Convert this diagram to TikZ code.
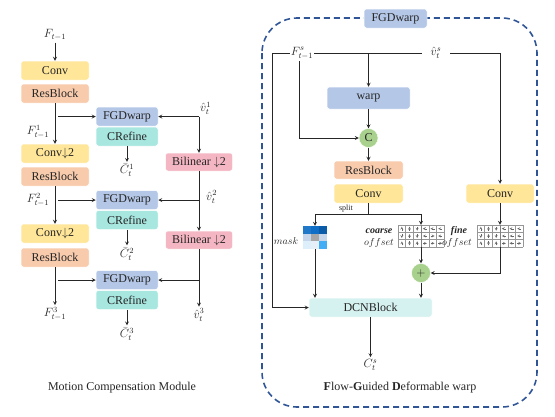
\documentclass[tikz,border=0pt]{standalone}
\usepackage{amsmath}
\usepackage{fontspec}
\setmainfont{Liberation Serif}
\usepackage{tikz}
\usetikzlibrary{arrows, shapes.geometric}
\definecolor{convyellow}{RGB}{255,230,153}
\definecolor{resorange}{RGB}{248,203,173}
\definecolor{warpblue}{RGB}{180,199,231}
\definecolor{refinecyan}{RGB}{168,230,224}
\definecolor{dcncyan}{RGB}{214,242,240}
\definecolor{bilpink}{RGB}{244,182,194}
\definecolor{opgreen}{RGB}{169,209,142}
\definecolor{frameblue}{RGB}{47,85,151}
\definecolor{linegray}{RGB}{38,38,38}
\definecolor{gridgray}{RGB}{150,150,150}
\definecolor{mA}{RGB}{31,120,200}
\definecolor{mB}{RGB}{15,111,198}
\definecolor{mC}{RGB}{10,91,168}
\definecolor{mD}{RGB}{197,213,234}
\definecolor{mE}{RGB}{166,166,166}
\definecolor{mF}{RGB}{197,213,234}
\definecolor{mG}{RGB}{222,239,252}
\definecolor{mH}{RGB}{230,238,248}
\definecolor{mI}{RGB}{64,173,245}
\tikzstyle{link} = [line width=0.75pt, draw=linegray]
\tikzstyle{arrow} = [link,->,>=stealth]

\begin{document}
\begin{tikzpicture}[x=1pt, y=-1pt, font=\fontsize{12}{14}\selectfont, text=linegray,
    box/.style={rectangle, rounded corners=2.5pt, draw=white, line width=0.5pt, inner sep=0pt, minimum height=19pt, minimum width=#1},
    box/.default=68pt,
    lbl/.style={inner sep=2pt},
    op/.style={circle, fill=opgreen, draw=white, minimum size=19pt, inner sep=0pt},
    small/.style={font=\fontsize{10}{12}\selectfont, inner sep=1pt}]
    \useasboundingbox (0,0) rectangle (555,416);

    % motion compensation module
    \node[lbl] (fin) at (55,35) {$F_{t-1}$};
    \node[box, fill=convyellow] (conv1) at (55,70.5) {Conv};
    \node[box, fill=resorange] (res1) at (55,93.5) {ResBlock};
    \node[box, fill=convyellow] (conv2) at (55,153.5) {Conv$\downarrow$2};
    \node[box, fill=resorange] (res2) at (55,176.5) {ResBlock};
    \node[box, fill=convyellow] (conv3) at (55,233.5) {Conv$\downarrow$2};
    \node[box, fill=resorange] (res3) at (55,257.5) {ResBlock};
    \node[lbl] (f1) at (38,132) {$F^1_{t-1}$};
    \node[lbl] (f2) at (38,200) {$F^2_{t-1}$};
    \node[lbl] (f3) at (55,314) {$F^3_{t-1}$};
    \foreach \i/\y in {1/116.5, 2/200, 3/280} {
        \node[box=62pt, fill=warpblue] (fgd\i) at (127,\y) {FGDwarp};
        \node[box=62pt, fill=refinecyan] (cref\i) at (127,\y+20) {CRefine};
        \node[lbl] (cbar\i) at (127,\y+54) {$\bar{C}^{\i}_t$};
        \draw[arrow] (cref\i) -- (cbar\i);
    }
    \node[box=67pt, minimum height=18pt, fill=bilpink] (bil1) at (199,162) {Bilinear $\downarrow$2};
    \node[box=67pt, minimum height=18pt, fill=bilpink] (bil2) at (199,240) {Bilinear $\downarrow$2};
    \node[lbl, anchor=south west] (v1) at (198,117) {$\hat{v}^1_t$};
    \node[lbl, anchor=west] (v2) at (204,197) {$\hat{v}^2_t$};
    \node[lbl] (v3) at (199,315) {$\hat{v}^3_t$};
    \coordinate (vc1) at (bil1.north |- fgd1.east);

    \draw[arrow] (fin) -- (conv1);
    \draw[arrow] (res1) -- (conv2);
    \draw[arrow] (res2) -- (conv3);
    \draw[arrow] (res3) -- (f3);
    \draw[arrow] ([xshift=3pt]res1.south |- fgd1.west) -- (fgd1.west);
    \draw[arrow] ([xshift=3pt]res2.south |- fgd2.west) -- (fgd2.west);
    \draw[arrow] ([xshift=3pt]res3.south |- fgd3.west) -- (fgd3.west);
    \draw[arrow] (vc1) -- (fgd1.east);
    \draw[arrow] (vc1) -- (bil1.north);
    \draw[arrow] (bil1) -- (bil2);
    \draw[arrow] (bil2) -- (v3);
    \draw[arrow] (bil1.south |- fgd2.east) -- (fgd2.east);
    \draw[arrow] (bil2.south |- fgd3.east) -- (fgd3.east);
    \node (capl) at (122,388) {Motion Compensation Module};

    % flow-guided deformable warp
    \draw[frameblue, line width=1.6pt, dash pattern=on 6pt off 4pt, rounded corners=35pt] (262,18) rectangle (537,407);
    \node[box=63pt, fill=warpblue] (title) at (395.5,18.5) {FGDwarp};
    \node[lbl, inner xsep=1pt] (fs) at (302,53) {$F^s_{t-1}$};
    \node[lbl, inner xsep=9pt] (vs) at (436,53) {$\hat{v}^s_t$};
    \node[box=83pt, minimum height=22pt, fill=warpblue] (warp) at (368.5,98) {warp};
    \node[op] (cat) at (368.5,138) {C};
    \node[box=69pt, minimum height=18pt, fill=resorange] (res) at (368.5,170) {ResBlock};
    \node[box=69pt, fill=convyellow] (conv) at (368.5,193.5) {Conv};
    \node[box, fill=convyellow] (convf) at (500,193.5) {Conv};
    \node[op] (plus) at (421,273) {$+$};
    \node[box=123pt, fill=dcncyan] (dcn) at (370.5,307.5) {DCNBlock};
    \node[lbl] (cs) at (370.5,365) {$C^s_t$};

    % mask and offsets
    \node[minimum width=24pt, minimum height=23pt, inner sep=0pt] (mask) at (315,237.5) {};
    \foreach \c [count=\i from 0] in {mA,mB,mC,mD,mE,mF,mG,mH,mI} {
        \pgfmathsetmacro{\cx}{303+8*mod(\i,3)}
        \pgfmathsetmacro{\cy}{226+7.67*int(\i/3)}
        \fill[\c] (\cx,\cy) rectangle ++(8,7.67);
    }
    \node[minimum width=46pt, minimum height=22pt, inner sep=0pt] (coarse) at (421,236) {};
    \node[minimum width=46pt, minimum height=22pt, inner sep=0pt] (fine) at (500,236) {};
    \foreach \gx/\dirs in {398/{270,270,90,180,180,180,90,270,90,180,0,180,270,90,270,0,0,0},
                           477/{270,270,90,180,180,180,90,270,90,180,180,180,270,90,270,0,180,0}} {
        \foreach \k in {0,...,6} {
            \pgfmathsetmacro{\cx}{\gx+7.67*\k}
            \draw[gridgray, line width=0.35pt] (\cx,225) -- ++(0,22);
        }
        \foreach \k in {0,...,3} {
            \pgfmathsetmacro{\cy}{225+7.33*\k}
            \draw[gridgray, line width=0.35pt] (\gx,\cy) -- ++(46,0);
        }
        \pgfmathsetmacro{\cx}{\gx+23}
        \draw[gray, line width=0.5pt] (\cx,225) -- ++(0,22);
        \foreach \a [count=\i from 0] in \dirs {
            \pgfmathsetmacro{\cx}{\gx+3.83+7.67*mod(\i,6)}
            \pgfmathsetmacro{\cy}{228.67+7.33*int(\i/6)}
            \draw[->, >=stealth, line width=0.3pt, gray!80!black]
                ([shift={(\a:-2)}]\cx,\cy) -- ([shift={(\a:2)}]\cx,\cy);
        }
    }
    \node[small] (masklbl) at (286,241) {$mask$};
    \node[small, font=\fontsize{10}{12}\selectfont\bfseries\itshape] (coarselbl) at (379,231) {coarse};
    \node[small] (coarseoff) at (379,243) {$offset$};
    \node[small, font=\fontsize{10}{12}\selectfont\bfseries\itshape] (finelbl) at (459,231) {fine};
    \node[small] (fineoff) at (457,243) {$offset$};
    \node[small, font=\fontsize{8}{10}\selectfont] (splitlbl) at (346,208.5) {split};

    \coordinate (corner) at (272,53);
    \coordinate (split) at (368.5,214);
    \draw[arrow] (fs.west) -- (corner) |- (dcn.west);
    \draw[link] (fs.east) -- (vs.west);
    \draw[arrow] (warp.north |- fs.east) -- (warp.north);
    \draw[arrow] (vs.east) -| (convf.north);
    \draw[arrow] ([xshift=-3pt]fs.south) |- (cat.west);
    \draw[arrow] (warp) -- (cat);
    \draw[arrow] (cat) -- (res);
    \draw[link] (conv.south) -- (split);
    \draw[arrow] (split) -| (mask.north);
    \draw[arrow] (split) -| (coarse.north);
    \draw[arrow] (coarse.south) -- (plus.north);
    \draw[arrow] (convf.south) -- (fine.north);
    \draw[arrow] (fine.south) |- (plus.east);
    \draw[arrow] (plus.south) -- (dcn.north -| plus.south);
    \draw[arrow] (mask.south) -- (dcn.north -| mask.south);
    \draw[arrow] (dcn.south) -- (cs.north);
    \node (capr) at (400,388) {\textbf{F}low-\textbf{G}uided \textbf{D}eformable warp};
\end{tikzpicture}
\end{document}
